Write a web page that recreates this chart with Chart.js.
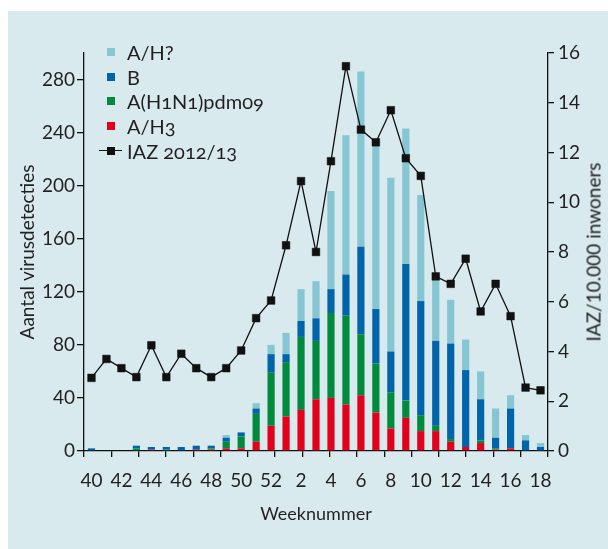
<!DOCTYPE html>
<html>
<head>
<meta charset="utf-8">
<script src="https://cdn.jsdelivr.net/npm/chart.js@4/dist/chart.umd.min.js"></script>
<style>
  html,body{margin:0;padding:0;background:#ffffff;}
  #panel{position:absolute;left:8px;top:11px;width:600px;height:538px;background:#d8eaee;}
  #wrap{position:absolute;left:0;top:0;width:608px;height:549px;}
  #legend{position:absolute;left:99px;top:40px;font-family:Lato,"Open Sans",sans-serif;font-size:20px;color:#231f20;font-variant-numeric:oldstyle-nums;}
  .row{display:flex;align-items:center;height:24.6px;white-space:nowrap;}
  .mk{position:relative;width:23px;height:24.6px;}
  .sq{position:absolute;left:7.5px;top:8.3px;width:8px;height:8px;}
  .ln{position:absolute;left:0;top:11.7px;width:23px;height:1.3px;background:#111;}
  .txt{margin-left:5px;}
  #rtitle{position:absolute;left:593px;top:252px;transform:translate(-50%,-50%) rotate(-90deg);font-family:Lato,"Open Sans",sans-serif;font-size:19px;color:#231f20;white-space:nowrap;}
</style>
</head>
<body>
<div id="panel"></div>
<div id="wrap"><canvas id="c" width="608" height="549"></canvas></div>
<div id="legend"></div>
<div id="rtitle">IAZ/10.000 inwoners</div>
<script>
// ---- data ----
const weeks = ['40','41','42','43','44','45','46','47','48','49','50','51','52',
               '1','2','3','4','5','6','7','8','9','10','11','12','13','14','15','16','17','18'];
const ah3      = [0,0,0,0,1,0,0,1,1,2,2,7,19, 26,31,39,40,35,42,29,17,25,15,15,7,3,6,1,2,0,0];
const h1n1     = [0,0,0,2,0,1,0,0,1,5,9,21,40, 41,55,44,64,67,46,37,27,13,12,4,2,0,2,1,0,0,0];
const bVals    = [2,0,0,2,2,2,3,3,2,3,3,4,14, 6,12,17,18,31,66,41,31,103,86,64,72,58,31,8,30,8,3];
const ahUnknown= [0,0,0,0,0,0,0,0,0,2,0,4,7, 16,24,28,74,105,132,127,131,102,80,46,33,23,21,22,10,4,3];
const iaz      = [2.94,3.70,3.33,2.97,4.25,2.97,3.91,3.33,2.97,3.33,4.04,5.34,6.05,
                  8.27,10.85,8.0,11.65,15.47,12.92,12.41,13.7,11.77,11.06,7.02,6.72,7.73,5.61,6.72,5.42,2.55,2.44];
const seriesNames = ['A/H3','A(H1N1)pdm09','B','A/H?','IAZ 2012/13'];
const seriesColors = ['#e3001b','#008a3d','#0064aa','#86c6d3','#111111'];

const FONT = 'Lato, "Open Sans", sans-serif';
const TXT = '#231f20';
Chart.defaults.font.family = FONT;
Chart.defaults.color = TXT;

const barCommon = {type:'bar', yAxisID:'y', xAxisID:'x', order:1,
  categoryPercentage:1.0, barPercentage:0.48, borderWidth:0};

const chart = new Chart(document.getElementById('c'), {
  type:'bar',
  data:{
    labels: weeks,
    datasets:[
      Object.assign({label:seriesNames[0], data:ah3, backgroundColor:seriesColors[0]}, barCommon),
      Object.assign({label:seriesNames[1], data:h1n1, backgroundColor:seriesColors[1]}, barCommon),
      Object.assign({label:seriesNames[2], data:bVals, backgroundColor:seriesColors[2]}, barCommon),
      Object.assign({label:seriesNames[3], data:ahUnknown, backgroundColor:seriesColors[3]}, barCommon),
      {type:'line', label:seriesNames[4], data:iaz, yAxisID:'y1', xAxisID:'x', order:0,
       borderColor:seriesColors[4], borderWidth:1.3, backgroundColor:seriesColors[4],
       pointStyle:'rect', pointRadius:5.4, pointBorderWidth:0.5, pointBorderColor:seriesColors[4],
       pointBackgroundColor:seriesColors[4], tension:0, fill:false}
    ]
  },
  options:{
    responsive:false, animation:false,
    layout:{padding:{top:53,left:0,right:0,bottom:0}},
    plugins:{legend:{display:false}, tooltip:{enabled:false}},
    scales:{
      xt:{type:'linear', position:'bottom', min:0, max:16, weight:1,
          ticks:{display:false, stepSize:1},
          grid:{display:true, drawOnChartArea:false, drawTicks:true, tickLength:6, color:'#111', lineWidth:1.3},
          border:{display:true, color:'#111', width:1.3},
          afterFit:(s)=>{s.height=6;}},
      x:{type:'category', position:'bottom', stacked:true, offset:true, weight:2,
         grid:{display:false, drawTicks:false, offset:true},
         border:{display:false},
         ticks:{autoSkip:false, maxRotation:0, minRotation:0, padding:12,
                font:{size:19}, color:TXT,
                callback:function(v,i){return i%2===0 ? this.getLabelForValue(v) : '';}},
         title:{display:true, text:'Weeknummer', font:{size:18}, color:TXT, padding:{top:0,bottom:24}},
         afterFit:(s)=>{s.height=92;}},
      y:{type:'linear', position:'left', stacked:true, min:0, max:300,
         ticks:{stepSize:40, includeBounds:false, padding:2, font:{size:19}, color:TXT},
         grid:{drawOnChartArea:false, drawTicks:true, tickLength:7, color:'#111', lineWidth:1.3},
         border:{display:true, color:'#111', width:1.3},
         title:{display:true, text:'Aantal virusdetecties', font:{size:19}, color:TXT, padding:{top:16,bottom:0}},
         afterFit:(s)=>{s.width=84;}},
      y1:{type:'linear', position:'right', min:0, max:16,
          ticks:{stepSize:2, padding:4, font:{size:19}, color:TXT},
          grid:{drawOnChartArea:false, drawTicks:true, tickLength:6, color:'#111', lineWidth:1.3},
          border:{display:true, color:'#111', width:1.3},
          afterFit:(s)=>{s.width=60;}}
    }
  }
});

// HTML legend built from the chart's datasets (top of stack first, then the line)
const legend = document.getElementById('legend');
const order = [3,2,1,0,4];
order.forEach(i=>{
  const ds = chart.data.datasets[i];
  const row = document.createElement('div'); row.className='row';
  const mk = document.createElement('div'); mk.className='mk';
  if (ds.type==='line'){
    const l=document.createElement('div'); l.className='ln'; mk.appendChild(l);
    const s=document.createElement('div'); s.className='sq'; s.style.background=ds.borderColor; mk.appendChild(s);
  } else {
    const s=document.createElement('div'); s.className='sq'; s.style.background=ds.backgroundColor; mk.appendChild(s);
  }
  const t=document.createElement('span'); t.className='txt'; t.textContent=ds.label;
  row.appendChild(mk); row.appendChild(t); legend.appendChild(row);
});
</script>
</body>
</html>
